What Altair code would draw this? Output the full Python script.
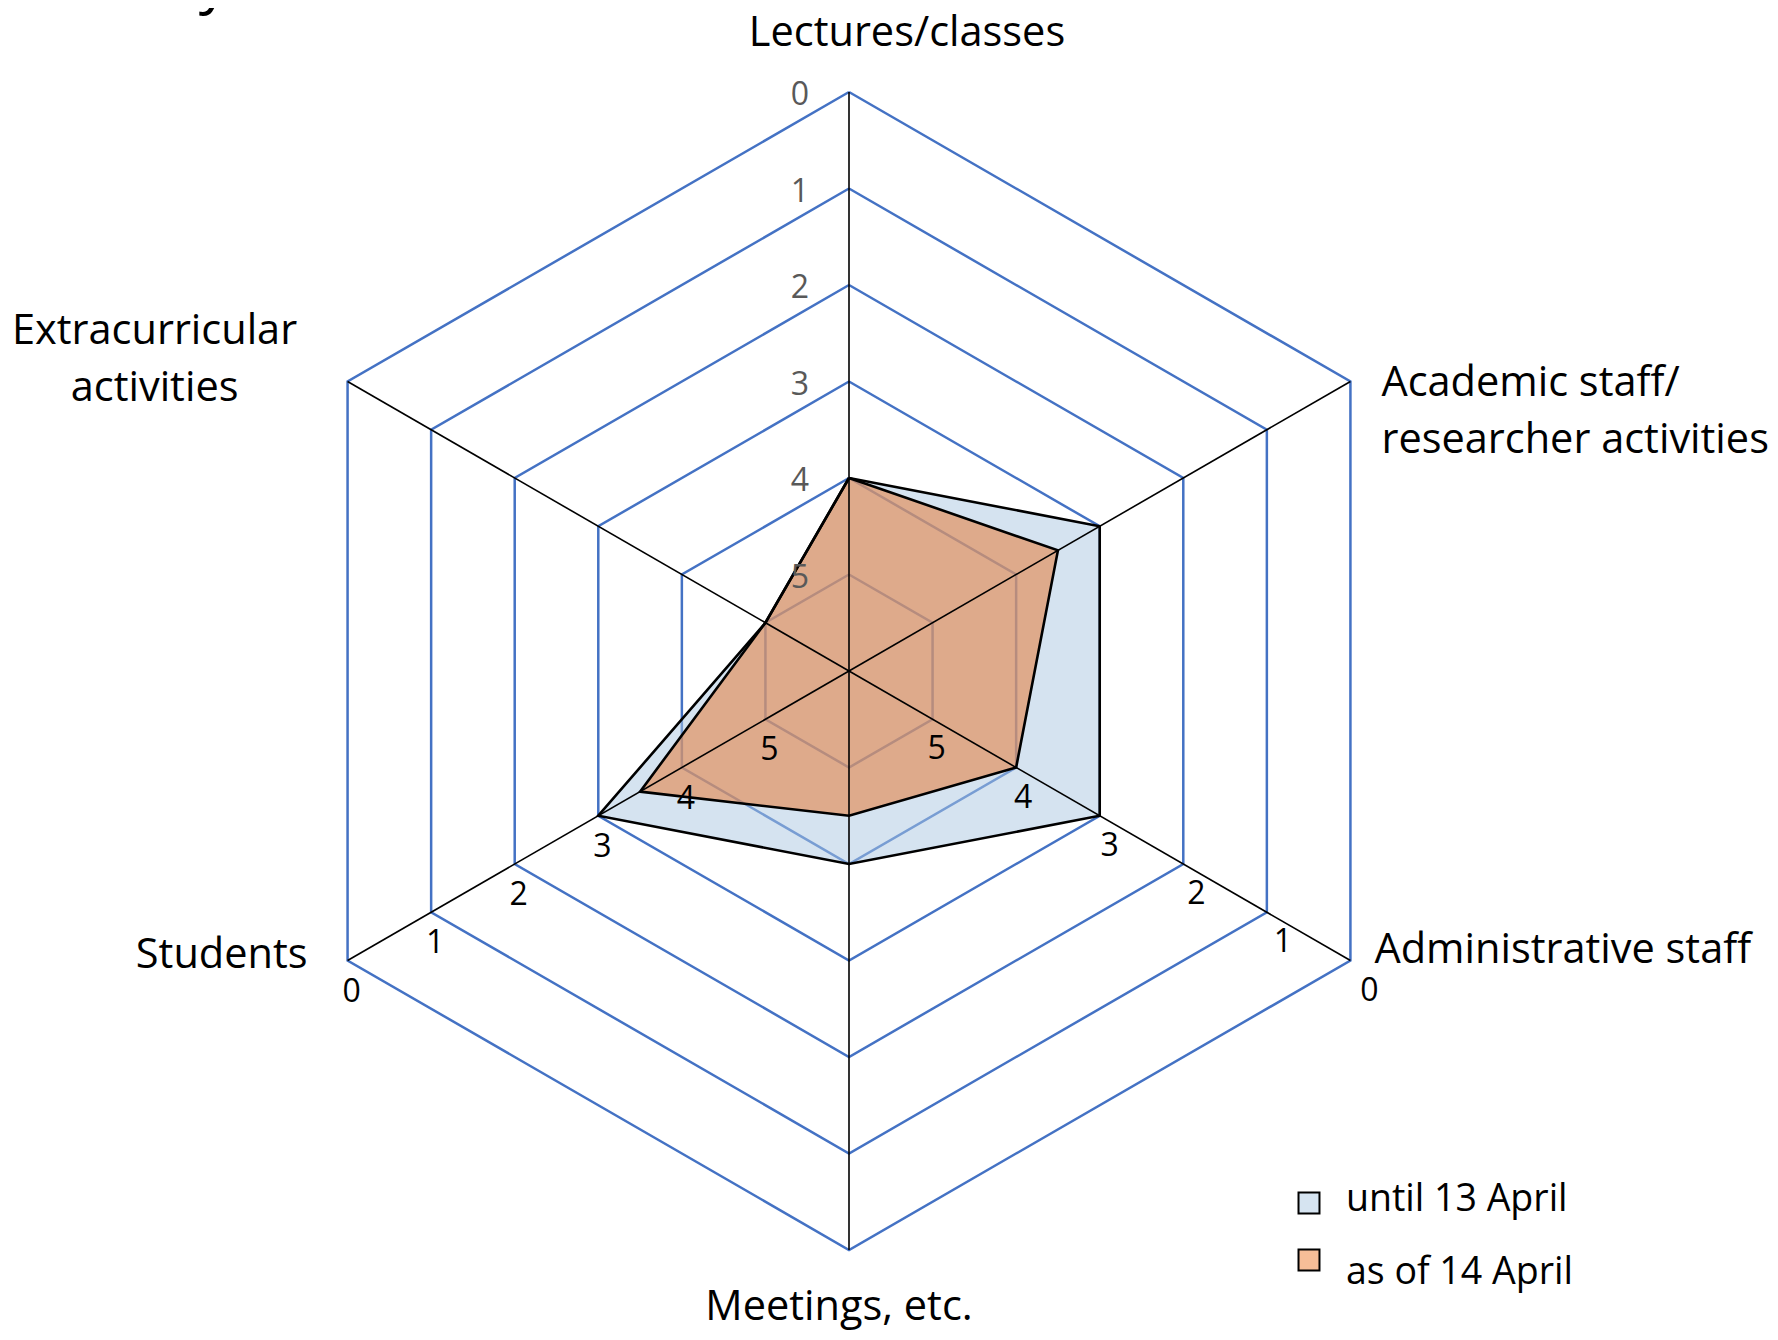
import altair as alt
import pandas as pd

# ---------------- data ----------------
categories = [
    "Lectures/classes",
    "Academic staff/\nresearcher activities",
    "Administrative staff",
    "Meetings, etc.",
    "Students",
    "Extracurricular\nactivities",
]
series_names = ["until 13 April", "as of 14 April"]
until_13_april = [4, 3, 3, 4, 3, 5]
as_of_14_april = [4, 3.5, 4, 4.5, 3.5, 5]
tick_values = [0, 1, 2, 3, 4, 5]
tick_labels = ["0", "1", "2", "3", "4", "5"]
scale_centre = 6  # value found at the centre of the radar (axis reversed)
title_fragment = "university activities"

# ---------------- tables built from the arrays ----------------
n = len(categories)
series_rows = []
for name, vals in zip(series_names, [until_13_april, as_of_14_april]):
    for i in range(n + 1):
        series_rows.append({"series": name, "idx": i, "value": vals[i % n]})
series_df = pd.DataFrame(series_rows)

ring_rows = []
for t in tick_values:
    for i in range(n + 1):
        ring_rows.append({"tick": t, "idx": i, "value": t})
ring_df = pd.DataFrame(ring_rows)

cat_df = pd.DataFrame({"idx": list(range(n)), "category": categories, "value": [0] * n})
tick_df = pd.DataFrame({"value": tick_values, "label": tick_labels})
legend_df = pd.DataFrame({"series": series_names, "k": list(range(len(series_names)))})

# ---------------- geometry ----------------
W, H = 1760, 1324
UNIT = 96.5
CX, CY = 841, 663
xs = alt.Scale(domain=[-CX / UNIT, (W - CX) / UNIT], nice=False, zero=False)
ys = alt.Scale(domain=[-(H - CY) / UNIT, CY / UNIT], nice=False, zero=False)

FONT = "Open Sans"
RING_BLUE = "#4472C4"


def polar(chart, idx_expr="datum.idx"):
    return chart.transform_calculate(
        ang=f"PI/2 - ({idx_expr})*PI/3",
        r=f"{scale_centre} - datum.value",
    ).transform_calculate(
        px="datum.r*cos(datum.ang)",
        py="datum.r*sin(datum.ang)",
        x0="0",
        y0="0",
    )


X = alt.X("px:Q", scale=xs, axis=None)
Y = alt.Y("py:Q", scale=ys, axis=None)

# rings
rings = polar(alt.Chart(ring_df)).mark_line(
    stroke=RING_BLUE, strokeWidth=2.5
).encode(x=X, y=Y, order="idx:Q", detail="tick:N")

# fills
fill_specs = {
    "until 13 April": ("#ABC7E1", 0.5),
    "as of 14 April": ("#E47E3E", 0.57),
}
fills = []
outlines = []
for name in series_names:
    col, op = fill_specs[name]
    base = polar(alt.Chart(series_df).transform_filter(alt.datum.series == name))
    fills.append(
        base.mark_line(fill=col, fillOpacity=op, strokeOpacity=0, strokeWidth=0).encode(
            x=X, y=Y, order="idx:Q"
        )
    )
    outlines.append(
        base.mark_line(stroke="black", strokeWidth=2.6).encode(x=X, y=Y, order="idx:Q")
    )

# spokes
spokes = polar(alt.Chart(cat_df)).mark_rule(stroke="black", strokeWidth=1.6).encode(
    x=X, y=Y, x2="x0:Q", y2="y0:Q"
)

# tick labels
top_ticks = polar(alt.Chart(tick_df), "0").mark_text(
    font=FONT, fontSize=32, color="#595959", align="center", baseline="middle", dx=-49, dy=3
).encode(x=X, y=Y, text="label:N")

left_ticks = polar(alt.Chart(tick_df), "4").mark_text(
    font=FONT, fontSize=32, color="black", align="center", baseline="middle", dx=4, dy=31
).encode(x=X, y=Y, text="label:N")

right_ticks = (
    polar(alt.Chart(tick_df), "2")
    .transform_calculate(pxo=f"datum.px + (3*datum.r + 1)/{UNIT}")
    .mark_text(font=FONT, fontSize=32, color="black", align="center", baseline="middle", dy=30)
    .encode(x=alt.X("pxo:Q", scale=xs, axis=None), y=Y, text="label:N")
)

# category labels (dy refers to the first line)
label_layout = [
    ("center", 58, -58),
    ("left", 31, 2),
    ("left", 24, -10),
    ("center", -10, 58),
    ("right", -40, -5),
    ("center", -193, -50),
]
cat_labels = []
for i, (al, dx, dy) in enumerate(label_layout):
    cat_labels.append(
        polar(alt.Chart(cat_df).transform_filter(alt.datum.idx == i))
        .mark_text(
            font=FONT, fontSize=41.5, color="black", align=al, baseline="middle",
            dx=dx, dy=dy, lineBreak="\n", lineHeight=57,
        )
        .encode(x=X, y=Y, text="category:N")
    )

# legend
legend_fill = {"until 13 April": "#D6E4F1", "as of 14 April": "#F6BE98"}
legend_layers = []
for k, name in enumerate(series_names):
    legend_layers.append(
        alt.Chart(legend_df).transform_filter(alt.datum.k == k).mark_square(
            size=440, fill=legend_fill[name], stroke="black", strokeWidth=2, opacity=1
        ).encode(x=alt.value(1301), y=alt.value(1195 + 57 * k))
    )
    legend_layers.append(
        alt.Chart(legend_df).transform_filter(alt.datum.k == k).mark_text(
            font=FONT, fontSize=37.5, color="black", align="left", baseline="middle"
        ).encode(x=alt.value(1338), y=alt.value(1192 + 73 * k), text="series:N")
    )

# clipped title fragment at the very top
title = alt.Chart(pd.DataFrame({"t": [title_fragment]})).mark_text(
    font=FONT, fontSize=60, color="black", align="right", baseline="alphabetic"
).encode(x=alt.value(479), y=alt.value(-6), text="t:N")

chart = alt.layer(
    rings, *fills, spokes, *outlines, top_ticks, left_ticks, right_ticks,
    *cat_labels, *legend_layers, title,
).properties(
    width=W, height=H, padding=0, autosize=alt.AutoSizeParams(type="none"),
    background="white",
).configure_view(stroke=None)

chart.save("out.html", embed_options={"renderer": "svg", "actions": False})
